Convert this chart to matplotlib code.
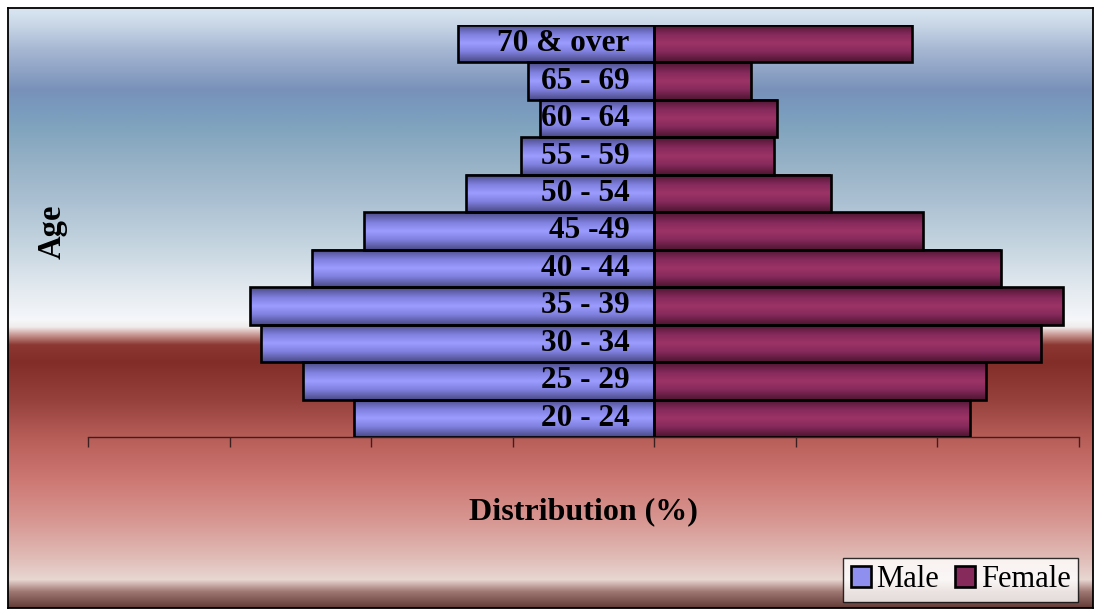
import numpy as np
import matplotlib
matplotlib.use("Agg")
import matplotlib.pyplot as plt
from matplotlib.colors import LinearSegmentedColormap
from matplotlib.patches import Rectangle

# Age groups, youngest at the bottom
age_groups = ["20 - 24", "25 - 29", "30 - 34", "35 - 39", "40 - 44", "45 -49",
              "50 - 54", "55 - 59", "60 - 64", "65 - 69", "70 & over"]
male_pct = [4.24, 4.96, 5.56, 5.71, 4.83, 4.10, 2.66, 1.88, 1.62, 1.78, 2.77]
female_pct = [4.46, 4.69, 5.47, 5.78, 4.90, 3.79, 2.50, 1.69, 1.74, 1.37, 3.64]
x_ticks = [-8, -6, -4, -2, 0, 2, 4, 6]

plt.rcParams["font.family"] = ["Liberation Serif", "DejaVu Serif"]

W, H, DPI = 1095, 610, 100
fig = plt.figure(figsize=(W / DPI, H / DPI), dpi=DPI)
fig.patch.set_facecolor("white")

# Framed chart area with a banded vertical gradient
bg_left, bg_top, bg_right, bg_bottom = 8, 8, 1093, 608
bg_ax = fig.add_axes([bg_left / W, 1 - bg_bottom / H,
                      (bg_right - bg_left) / W, (bg_bottom - bg_top) / H])
bg_ax.set_zorder(0)
stops = [
    (8, (218, 230, 242)), (25, (200, 214, 230)), (50, (165, 182, 210)),
    (90, (120, 145, 185)), (110, (122, 155, 190)), (130, (130, 165, 190)),
    (170, (155, 180, 200)), (200, (170, 192, 210)), (250, (200, 215, 225)),
    (290, (228, 234, 240)), (320, (245, 247, 250)), (327, (240, 236, 236)),
    (335, (200, 150, 145)), (345, (140, 55, 50)), (362, (130, 45, 40)),
    (400, (150, 65, 60)), (440, (185, 95, 90)), (480, (205, 120, 115)),
    (520, (215, 150, 145)), (560, (225, 190, 185)), (580, (232, 215, 210)),
    (592, (160, 120, 115)), (608, (100, 60, 55)),
]
ys = np.arange(bg_top, bg_bottom + 1)
sy = np.array([s[0] for s in stops], float)
sc = np.array([s[1] for s in stops], float) / 255.0
grad = np.stack([np.interp(ys, sy, sc[:, k]) for k in range(3)], axis=-1)
bg_ax.imshow(grad[:, None, :], aspect="auto", extent=[0, 1, 1, 0],
             interpolation="bilinear")
bg_ax.set_xlim(0, 1)
bg_ax.set_ylim(1, 0)
bg_ax.set_xticks([])
bg_ax.set_yticks([])
for sp in bg_ax.spines.values():
    sp.set_color("black")
    sp.set_linewidth(1.3)

# Pyramid axes
x_lo, x_hi = x_ticks[0], x_ticks[-1]
ax = fig.add_axes([88 / W, 1 - 437 / H, (1079 - 88) / W, (437 - 25) / H])
ax.set_zorder(1)
ax.patch.set_alpha(0)

y = np.arange(len(age_groups))
male_bars = ax.barh(y, -np.array(male_pct), height=1.0, left=0,
                    facecolor="none", edgecolor="black", linewidth=1.9, zorder=3)
female_bars = ax.barh(y, female_pct, height=1.0, left=0,
                      facecolor="none", edgecolor="black", linewidth=1.9, zorder=3)

# Shaded (cylinder-like) fill for each bar
t = np.linspace(0, 1, 64)
shade = 1 - np.abs(t - 0.5) * 2
male_cmap = LinearSegmentedColormap.from_list(
    "male", [(0.0, "#4a4a86"), (0.55, "#8080e0"), (1.0, "#9c9cff")])
female_cmap = LinearSegmentedColormap.from_list(
    "female", [(0.0, "#4e1530"), (0.55, "#862a5c"), (1.0, "#9c3366")])
for bars, cmap in ((male_bars, male_cmap), (female_bars, female_cmap)):
    for rect in bars:
        x0, y0 = rect.get_x(), rect.get_y()
        w, h = rect.get_width(), rect.get_height()
        ax.imshow(shade[:, None], cmap=cmap, vmin=0, vmax=1, aspect="auto",
                  extent=[min(x0, x0 + w), max(x0, x0 + w), y0, y0 + h],
                  origin="lower", interpolation="bilinear", zorder=2)
ax.set_xlim(x_lo, x_hi)
ax.set_ylim(-0.5, len(age_groups) - 0.5)

# Age labels inside the male bars
for yi, label in zip(y, age_groups):
    ax.text(-0.35, yi, label, ha="right", va="center", fontsize=22.5,
            fontweight="bold", color="black", zorder=4)

ax.set_xticks(x_ticks)
ax.set_xticklabels([])
ax.set_yticks([])
ax.tick_params(axis="x", direction="out", length=7.5, width=1,
               color="#3c2020")
for side in ("top", "left", "right"):
    ax.spines[side].set_visible(False)
ax.spines["bottom"].set_color("#3c2020")
ax.spines["bottom"].set_linewidth(1)

fig.text(583 / W, 1 - 512 / H, "Distribution (%)", ha="center", va="center",
         fontsize=23, fontweight="bold", zorder=5)
fig.text(52 / W, 1 - 232 / H, "Age", ha="center", va="center", rotation=90,
         fontsize=23.5, fontweight="bold", zorder=5)

handles = [
    Rectangle((0, 0), 1, 1, facecolor="#8f8ff0", edgecolor="black", linewidth=1.9),
    Rectangle((0, 0), 1, 1, facecolor="#862a5c", edgecolor="black", linewidth=1.9),
]
leg = fig.legend(handles, ["Male", "Female"], loc="lower right",
                 bbox_to_anchor=(1078 / W, 1 - 602 / H), ncol=2,
                 fontsize=22, frameon=True, fancybox=False, edgecolor="black",
                 handlelength=0.65, handleheight=0.65, handletextpad=0.2,
                 columnspacing=0.5, borderpad=0.25, borderaxespad=0)
leg.get_frame().set_linewidth(1)
leg.set_zorder(6)

fig.savefig("out.png", dpi=DPI)
